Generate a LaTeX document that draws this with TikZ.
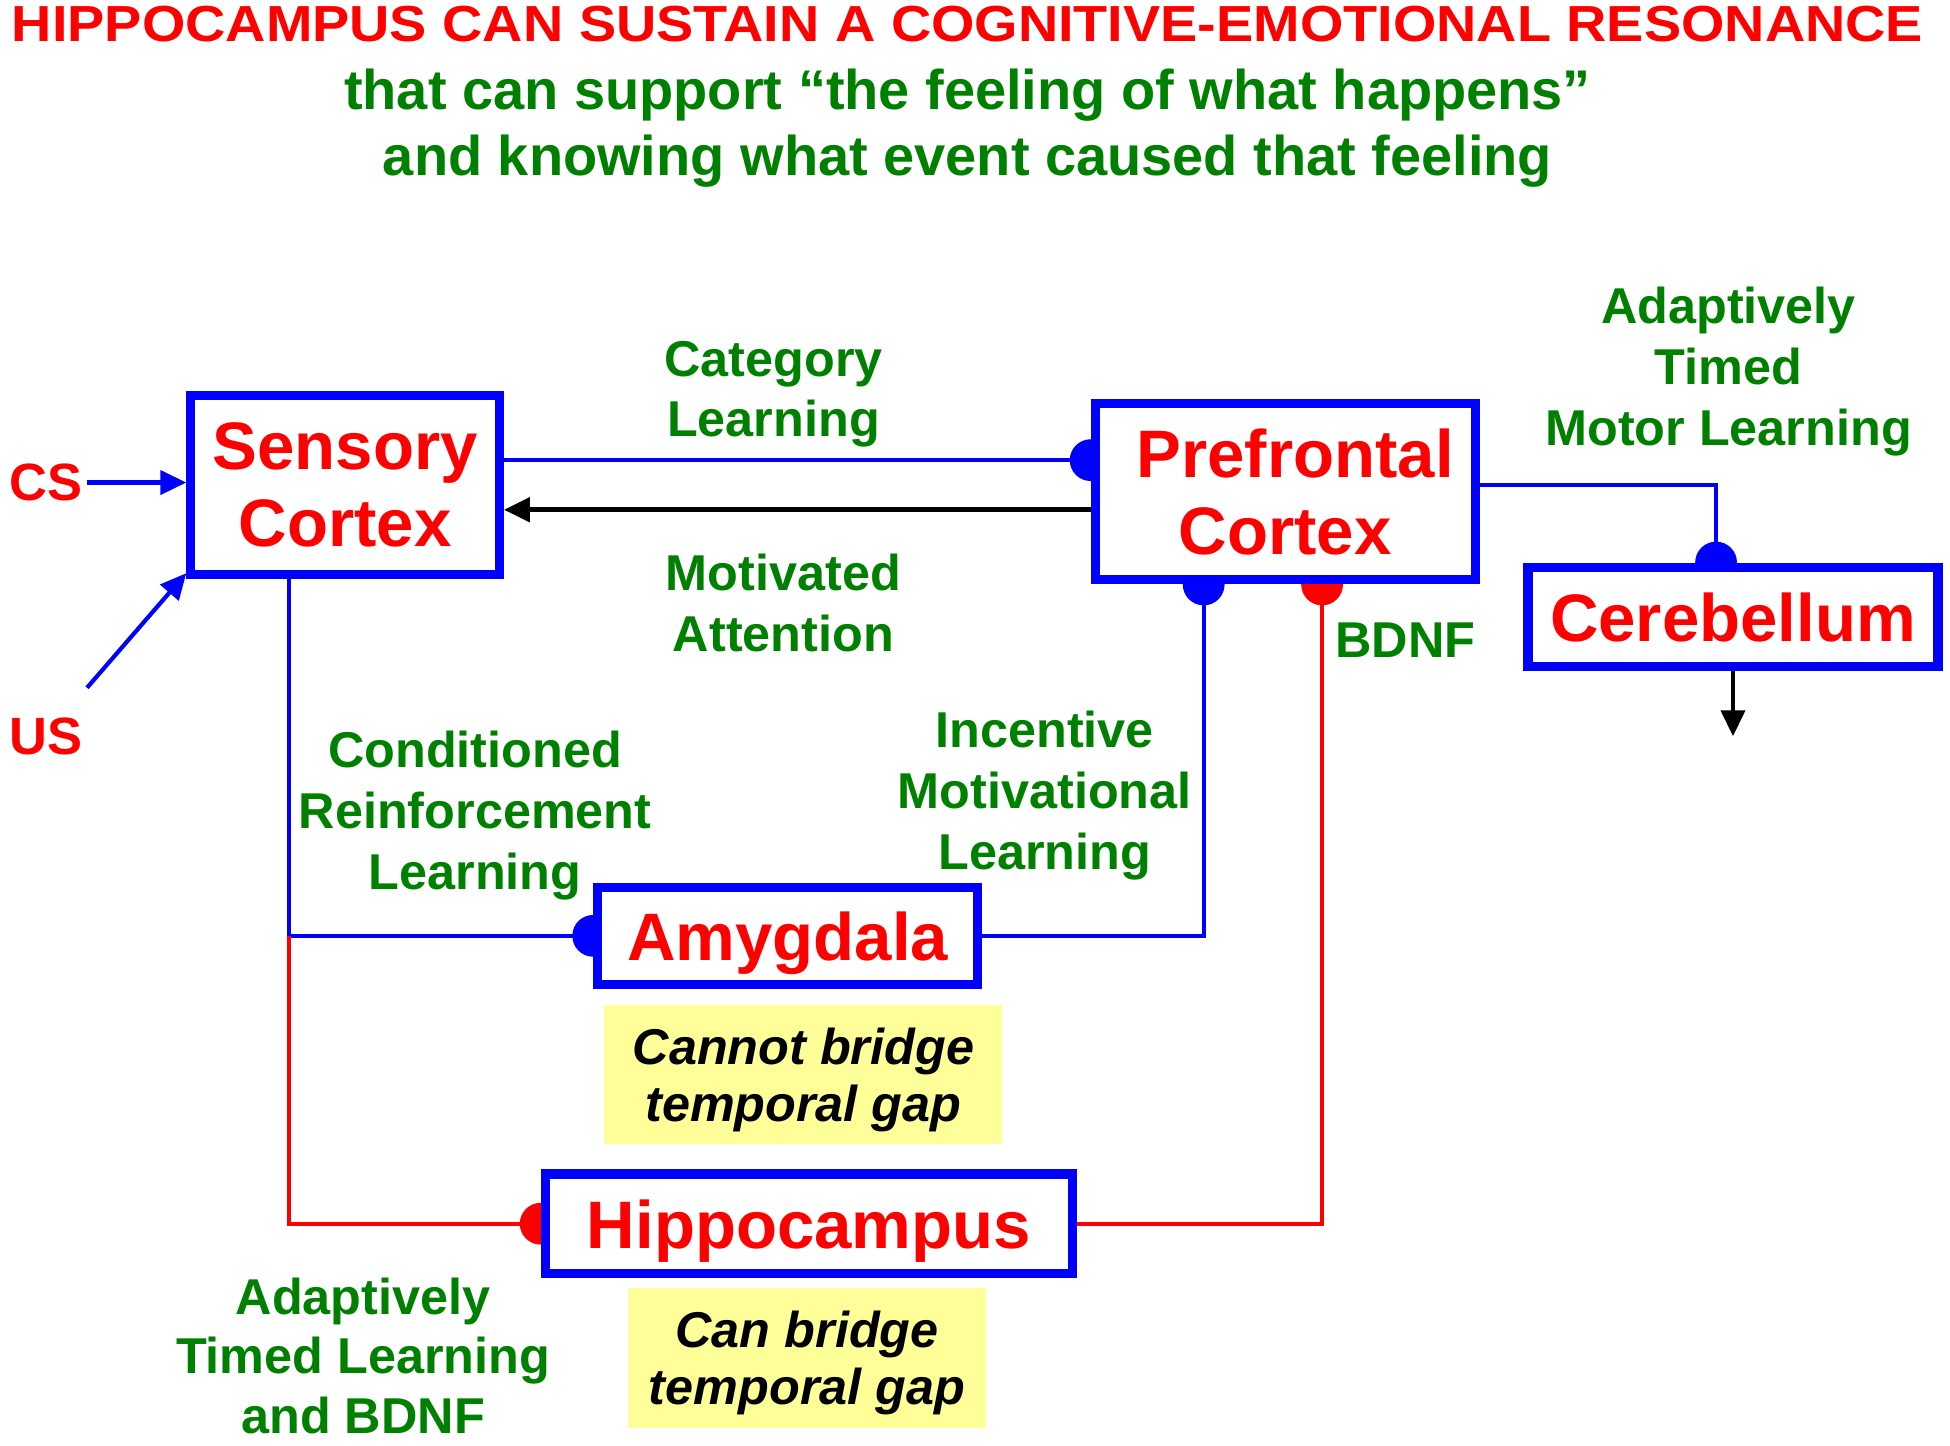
\documentclass[tikz,border=0pt]{standalone}
\usepackage{fontspec}
\setmainfont{Liberation Sans}
\usetikzlibrary{arrows.meta}
\pgfdeclarelayer{background}
\pgfsetlayers{background,main}
\definecolor{brainred}{RGB}{255,0,0}
\definecolor{linkblue}{RGB}{0,0,255}
\definecolor{labelgreen}{RGB}{0,128,0}
\definecolor{notefill}{RGB}{255,255,153}

\begin{document}
\begin{tikzpicture}[x = 0.0125cm, y = -0.0125cm,
        region/.style = {draw = linkblue, line width = 2.6pt, fill = white, text = brainred, align = center,
            inner sep = 0pt, text depth = 0pt, font = \fontsize{19.2}{22}\selectfont\bfseries},
        lab/.style = {text = labelgreen, align = center, inner sep = 0pt, font = \fontsize{14.4}{17.4}\selectfont\bfseries},
        note/.style = {fill = notefill, align = center, inner sep = 0pt, text depth = 0pt,
            font = \fontsize{14.4}{16.4}\selectfont\bfseries\itshape},
        bline/.style = {draw = linkblue, line width = 1.2pt},
        rline/.style = {draw = brainred, line width = 1.2pt},
        tip/.style = {-{Triangle[length = 2.6mm, width = 2.4mm]}}]
    \useasboundingbox (0,0) rectangle (1568,1162);

    % heading
    \node[text = brainred, font = \fontsize{14.5}{17}\selectfont\bfseries] (title) at (778,19)
        {\scalebox{1.1}[1]{HIPPOCAMPUS CAN SUSTAIN A COGNITIVE-EMOTIONAL RESONANCE}};
    \node[text = labelgreen, align = center, font = \fontsize{16}{18.9}\selectfont\bfseries] (sub) at (778,103)
        {that can support “the feeling of what happens”\\and knowing what event caused that feeling};

    % brain regions
    \node[region, minimum width = 3.1cm, minimum height = 1.8cm] (sens) at (277.5,390) {Sensory\\Cortex};
    \node[region, minimum width = 3.82cm, minimum height = 1.77cm] (pfc) at (1033.5,395.5) {\hspace{2mm}Prefrontal\\Cortex};
    \node[region, minimum width = 4.12cm, minimum height = 1.0cm] (cereb) at (1393.5,496) {Cerebellum};
    \node[region, minimum width = 3.82cm, minimum height = 0.97cm] (amyg) at (633.5,752.5) {Amygdala};
    \node[region, minimum width = 5.3cm, minimum height = 1.0cm] (hippo) at (650.5,984) {Hippocampus};

    \node[note, minimum width = 4cm, minimum height = 1.4cm] (nogap) at (646,864) {Cannot bridge\\temporal gap};
    \node[note, minimum width = 3.6cm, minimum height = 1.4cm] (gap) at (649,1092) {Can bridge\\temporal gap};

    % inputs
    \node[text = brainred, inner sep = 1pt, font = \fontsize{15}{17}\selectfont\bfseries] (cs) at (37,388) {CS};
    \node[text = brainred, inner sep = 1pt, font = \fontsize{15}{17}\selectfont\bfseries] (us) at (37,592) {US};
    \coordinate (usstart) at (70,553);
    \coordinate (motor) at (1390,592);

    % pathway labels
    \node[lab] (cat) at (622,317) {Category\\Learning};
    \node[lab] (att) at (630,485) {Motivated\\Attention};
    \node[lab] (motlearn) at (1390,299) {Adaptively\\Timed\\Motor Learning};
    \node[lab] (bdnf) at (1130,515) {BDNF};
    \node[lab] (crl) at (382,656) {Conditioned\\Reinforcement\\Learning};
    \node[lab] (iml) at (840,640) {Incentive\\Motivational\\Learning};
    \node[lab, font = \fontsize{14.4}{17}\selectfont\bfseries] (atl) at (292,1090) {Adaptively\\Timed Learning\\and BDNF};

    \begin{pgfonlayer}{background}
        \draw[bline, tip] (cs.east) -- (cs.east -| sens.west);
        \draw[bline, tip] (usstart) -- ([yshift = 0.6mm]sens.south west);
        \draw[line width = 1.5pt, tip] ([yshift = -1.8mm]pfc.west) coordinate (attstart) -- (attstart -| sens.east);
        \draw[line width = 1.2pt, tip] (cereb.south) -- (cereb.south |- motor);

        \draw[bline] ([yshift = 2.5mm]sens.east) coordinate (catstart) -- (catstart -| pfc.west) coordinate (catend);
        \draw[bline] ([yshift = 0.7mm]pfc.east) -| ([xshift = -1.7mm]cereb.north) coordinate (cbend);
        \draw[bline] (amyg.east) -| ([xshift = -8.2mm]pfc.south) coordinate (imlend);
        \draw[rline] (hippo.east) -| ([xshift = 3.7mm]pfc.south) coordinate (bdnfend);
        \draw[bline] ([xshift = -5.6mm]sens.south) coordinate (crlstart) |- (amyg.west);
        \draw[rline] (crlstart |- amyg.west) |- (hippo.west);

        \fill[linkblue] (catend) circle[radius = 0.21cm];
        \fill[linkblue] (cbend) circle[radius = 0.21cm];
        \fill[linkblue] (imlend) circle[radius = 0.21cm];
        \fill[linkblue] (amyg.west) circle[radius = 0.21cm];
        \fill[brainred] (bdnfend) circle[radius = 0.21cm];
        \fill[brainred] (hippo.west) circle[radius = 0.21cm];
    \end{pgfonlayer}
\end{tikzpicture}
\end{document}
